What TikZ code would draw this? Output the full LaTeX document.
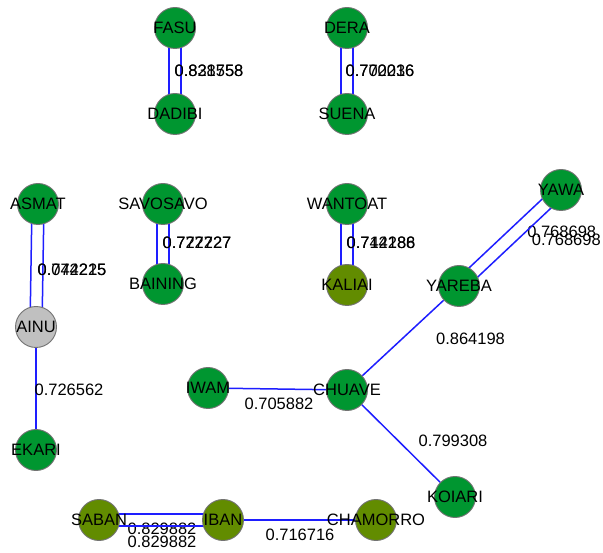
\documentclass[tikz,border=0pt]{standalone}
\usepackage{fontspec}
\setmainfont{Liberation Sans}
\usetikzlibrary{calc}
\pgfdeclarelayer{back}
\pgfdeclarelayer{bg}
\pgfsetlayers{back,bg,main}
\definecolor{ngreen}{RGB}{0,150,48}
\definecolor{nolive}{RGB}{98,140,0}
\definecolor{ngrey}{RGB}{192,192,192}
\definecolor{nborder}{RGB}{115,115,115}
\definecolor{eblue}{RGB}{30,30,255}
\begin{document}
\begin{tikzpicture}[x=1pt,y=-1pt,
  vtx/.style={circle, minimum size=41pt, inner sep=0pt, draw=nborder, line width=0.9pt},
  gv/.style={vtx, fill=ngreen},
  ov/.style={vtx, fill=nolive},
  hv/.style={vtx, fill=ngrey},
  lbl/.style={inner sep=0pt, font=\fontsize{16.5}{18}\selectfont, text=black},
  edge/.style={eblue, line width=1.5pt}]
\useasboundingbox (0,0) rectangle (603,553);
\begin{pgfonlayer}{back}
\fill[white] (0,0) rectangle (603,553);
\end{pgfonlayer}

% nodes
\node[gv, label={[lbl]center:FASU}] (fasu) at (175,28) {};
\node[gv, label={[lbl]center:DADIBI}] (dadibi) at (175,114) {};
\node[gv, label={[lbl]center:DERA}] (dera) at (347,28) {};
\node[gv, label={[lbl]center:SUENA}] (suena) at (347,114) {};
\node[gv, label={[lbl]center:ASMAT}] (asmat) at (38,204) {};
\node[hv, label={[lbl]center:AINU}] (ainu) at (36,327) {};
\node[gv, label={[lbl]center:EKARI}] (ekari) at (36,450) {};
\node[gv, label={[lbl]center:SAVOSAVO}] (savosavo) at (163,204) {};
\node[gv, label={[lbl]center:BAINING}] (baining) at (163,284) {};
\node[gv, label={[lbl]center:WANTOAT}] (wantoat) at (347,204) {};
\node[ov, label={[lbl]center:KALIAI}] (kaliai) at (347,285) {};
\node[gv, label={[lbl]center:YAWA}] (yawa) at (561,190) {};
\node[gv, label={[lbl]center:YAREBA}] (yareba) at (459,286) {};
\node[gv, label={[lbl]center:IWAM}] (iwam) at (208,388) {};
\node[gv, label={[lbl]center:CHUAVE}] (chuave) at (347,390) {};
\node[gv, label={[lbl]center:KOIARI}] (koiari) at (455,497) {};
\node[ov, label={[lbl]center:SABAN}] (saban) at (99,520) {};
\node[ov, label={[lbl]center:IBAN}] (iban) at (223,520) {};
\node[ov, label={[lbl]center:CHAMORRO}] (chamorro) at (376,520) {};

% edges
\begin{pgfonlayer}{bg}
\draw[edge] ([xshift=-6pt]fasu.center) -- ([xshift=-6pt]dadibi.center)
  node[lbl, midway, xshift=40pt] {0.831758};
\draw[edge] ([xshift=6pt]fasu.center) -- ([xshift=6pt]dadibi.center)
  node[lbl, midway, xshift=28pt] {0.828558};
\draw[edge] ([xshift=-6pt]dera.center) -- ([xshift=-6pt]suena.center)
  node[lbl, midway, xshift=39pt] {0.702016};
\draw[edge] ([xshift=6pt]dera.center) -- ([xshift=6pt]suena.center)
  node[lbl, midway, xshift=27pt] {0.770236};
\draw[edge] ([xshift=-6pt]asmat.center) -- ([xshift=-6pt]ainu.center)
  node[lbl, midway, xshift=41pt, yshift=-4.5pt] {0.074215};
\draw[edge] ([xshift=6pt]asmat.center) -- ([xshift=6pt]ainu.center)
  node[lbl, midway, xshift=29pt, yshift=-4.5pt] {0.742225};
\draw[edge] ([xshift=-6pt]savosavo.center) -- ([xshift=-6pt]baining.center)
  node[lbl, midway, xshift=40pt, yshift=1pt] {0.772727};
\draw[edge] ([xshift=6pt]savosavo.center) -- ([xshift=6pt]baining.center)
  node[lbl, midway, xshift=28pt, yshift=1pt] {0.727227};
\draw[edge] ([xshift=-6pt]wantoat.center) -- ([xshift=-6pt]kaliai.center)
  node[lbl, midway, xshift=40pt, yshift=1.5pt] {0.714286};
\draw[edge] ([xshift=6pt]wantoat.center) -- ([xshift=6pt]kaliai.center)
  node[lbl, midway, xshift=28pt, yshift=1.5pt] {0.742188};
\draw[edge] ([xshift=-4.3pt, yshift=4.6pt]yawa.center) -- ([xshift=-4.3pt, yshift=4.6pt]yareba.center)
  node[lbl, midway, xshift=56pt, yshift=1.6pt] {0.768698};
\draw[edge] ([xshift=4.3pt, yshift=-4.6pt]yawa.center) -- ([xshift=4.3pt, yshift=-4.6pt]yareba.center)
  node[lbl, midway, xshift=52pt, yshift=2.4pt] {0.768698};
\draw[edge] (ainu) -- (ekari) node[lbl, midway, xshift=33pt, yshift=-1.5pt] {0.726562};
\draw[edge] (chuave) -- (yareba) node[lbl, midway, xshift=67.5pt, yshift=-0.5pt] {0.864198};
\draw[edge] (iwam) -- (chuave) node[lbl, midway, xshift=1.5pt, yshift=-15pt] {0.705882};
\draw[edge] (chuave) -- (koiari) node[lbl, midway, xshift=52pt, yshift=2.5pt] {0.799308};
\draw[edge] ([yshift=6pt]saban.center) -- ([yshift=6pt]iban.center)
  node[lbl, midway, xshift=1pt, yshift=-15pt] {0.829882};
\draw[edge] ([yshift=-6pt]saban.center) -- ([yshift=-6pt]iban.center)
  node[lbl, midway, xshift=1pt, yshift=-16pt] {0.829882};
\draw[edge] (iban) -- (chamorro) node[lbl, midway, xshift=0.5pt, yshift=-15pt] {0.716716};
\end{pgfonlayer}
\end{tikzpicture}
\end{document}
